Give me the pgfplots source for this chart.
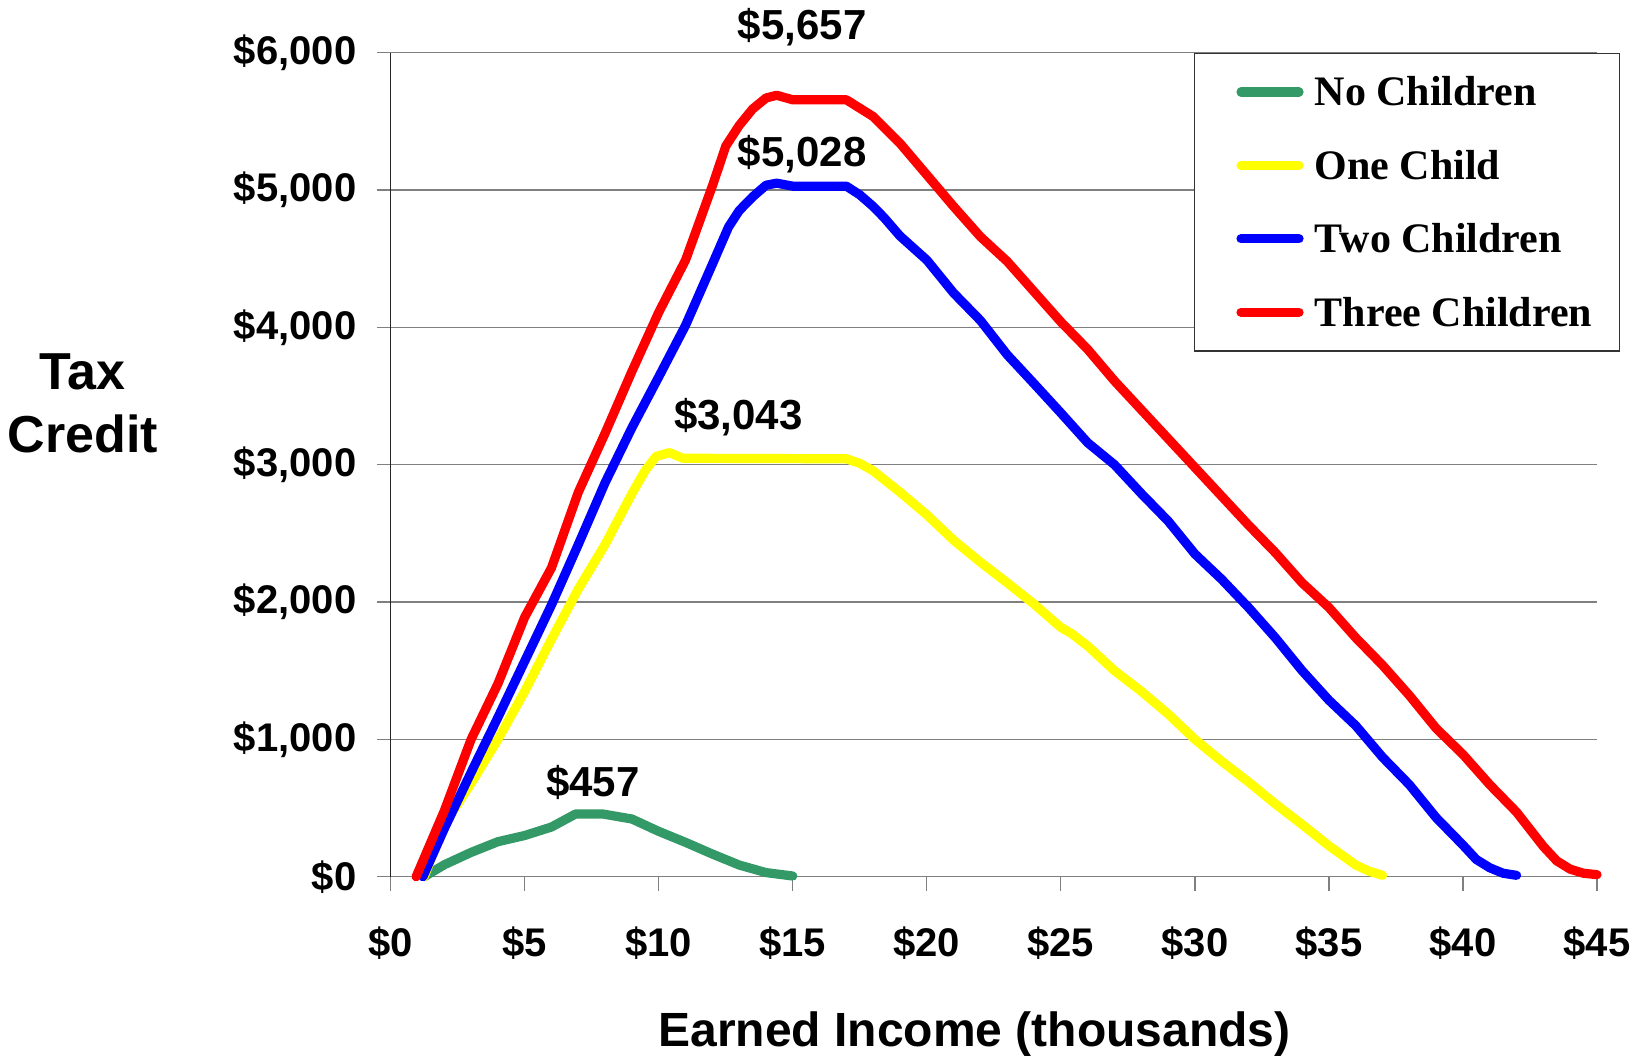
\documentclass[border=0pt]{standalone}
\usepackage{fontspec}
\setmainfont{Liberation Sans}
\newfontfamily\timesf{Liberation Serif}
\usepackage{pgfplots}
\pgfplotsset{compat=1.18}
\definecolor{cgreen}{HTML}{339966}
\definecolor{cyellow}{HTML}{FFFF00}
\definecolor{cblue}{HTML}{0000FF}
\definecolor{cred}{HTML}{FF0000}
\definecolor{gridgray}{HTML}{808080}
\tikzset{dataline/.style={line width=4.6pt, line join=round, line cap=round}}
\begin{document}
\begin{tikzpicture}
\begin{axis}[
  at={(195.35pt,89.65pt)}, anchor=south west,
  width=603.15pt, height=412pt, scale only axis,
  xmin=0, xmax=45, ymin=0, ymax=6000,
  axis x line=bottom, axis y line=left,
  axis line style={-},
  x axis line style={gridgray, line width=0.6pt},
  y axis line style={black!85, line width=0.6pt},
  tick align=outside, major tick length=7pt,
  xtick={0,5,...,45},
  xticklabels={\$0,\$5,\$10,\$15,\$20,\$25,\$30,\$35,\$40,\$45},
  ytick={0,1000,...,6000},
  yticklabels={\$0,{\$1,000},{\$2,000},{\$3,000},{\$4,000},{\$5,000},{\$6,000}},
  tick style={gridgray, line width=0.6pt},
  ymajorgrids, grid style={gridgray, line width=0.6pt},
  ticklabel style={font=\fontsize{20}{24}\selectfont\bfseries, inner sep=0pt},
  xticklabel shift=17.8pt,
  yticklabel shift=10pt,
  xlabel={Earned Income (thousands)},
  xlabel style={font=\fontsize{24}{29}\selectfont\bfseries, inner sep=0pt,
    at={(rel axis cs:0.4839,-0.163)}, anchor=north},
  ylabel={Tax\\Credit},
  ylabel style={font=\fontsize{26}{31.7}\selectfont\bfseries, inner sep=0pt,
    rotate=-90, align=center, at={(rel axis cs:-0.2552,0.6352)}, anchor=north},
  clip=false,
  legend cell align=left,
  legend image code/.code={%
    \path[draw=none] (0pt,-1pt) rectangle (42pt,1pt);
    \draw[#1] (9.9pt,0pt) -- (38.9pt,0pt);},
  legend style={at={(0.6656,1)}, anchor=north west, draw=black!80, line width=0.6pt,
    fill=white, inner xsep=13.5pt, inner ysep=12.4pt, row sep=22.8pt,
    column sep=4.8pt,
    font=\timesf\bfseries\fontsize{21}{25}\selectfont,
    nodes={inner sep=0pt, text height=13.9pt, text depth=0pt}},
]
\addplot[cgreen, dataline] coordinates {
(1.25,0) (2,87) (3,177) (4,255) (5,300) (6,362) (6.9,457) (7.9,457) (9,420) (10,330) (11,250) (12,165) (13,85) (14,30) (15,5)};
\addlegendentry{No Children}
\addplot[cyellow, dataline] coordinates {
(1.25,0) (2,380) (3,680) (4,1000) (5,1350) (6,1730) (7,2095) (8,2420) (9,2790) (9.5,2960) (9.9,3060) (10.4,3088) (10.9,3047) (17,3043) (17.5,3010) (18,2955) (19,2800) (20,2635) (21,2450) (22,2290) (23,2140) (24,1985) (25,1815) (25.4,1770) (26,1680) (27,1500) (28,1350) (29,1185) (30,1000) (31,840) (32,690) (33,530) (34,380) (35,225) (36,85) (36.5,40) (37,10)};
\addlegendentry{One Child}
\addplot[cblue, dataline] coordinates {
(1.2,0) (2,350) (3,760) (4,1160) (5,1570) (6,1980) (7,2420) (8,2870) (9,3270) (10,3640) (11,4015) (12,4460) (12.6,4730) (13,4850) (13.5,4950) (14,5035) (14.4,5050) (15,5028) (17,5028) (17.5,4965) (18,4880) (18.4,4800) (19,4665) (20,4490) (21,4250) (22,4050) (23,3800) (24,3590) (25,3377) (26,3160) (27,3000) (28,2790) (29,2590) (30,2350) (31,2165) (32,1960) (33,1740) (34,1500) (35,1285) (36,1100) (37,870) (38,670) (39,430) (40,230) (40.5,125) (41,65) (41.5,25) (42,10)};
\addlegendentry{Two Children}
\addplot[cred, dataline] coordinates {
(0.95,0) (2,480) (3,1000) (4,1405) (5,1890) (6,2250) (7,2800) (8,3230) (9,3680) (10,4110) (11,4490) (12,5030) (12.5,5320) (13,5470) (13.5,5590) (14,5670) (14.4,5690) (15,5657) (17,5657) (18,5535) (19,5340) (20,5110) (21,4880) (22,4660) (23,4480) (24,4260) (25,4040) (26,3840) (27,3610) (28,3400) (29,3190) (30,2980) (31,2770) (32,2560) (33,2360) (34,2140) (35,1960) (36,1740) (37,1540) (38,1320) (39,1080) (40,890) (41,670) (42,470) (43,220) (43.5,115) (44,55) (44.5,25) (45,15)};
\addlegendentry{Three Children}
\node[anchor=base, font=\fontsize{21}{25}\selectfont\bfseries, inner sep=0pt] at (axis cs:15.35,6099) {\$5,657};
\node[anchor=base, font=\fontsize{21}{25}\selectfont\bfseries, inner sep=0pt] at (axis cs:15.35,5171) {\$5,028};
\node[anchor=base, font=\fontsize{21}{25}\selectfont\bfseries, inner sep=0pt] at (axis cs:12.97,3253) {\$3,043};
\node[anchor=base, font=\fontsize{21}{25}\selectfont\bfseries, inner sep=0pt] at (axis cs:7.54,583) {\$457};
\end{axis}
\pgfresetboundingbox
\useasboundingbox (0pt,0pt) rectangle (816.5pt,528pt);
\end{tikzpicture}
\end{document}
